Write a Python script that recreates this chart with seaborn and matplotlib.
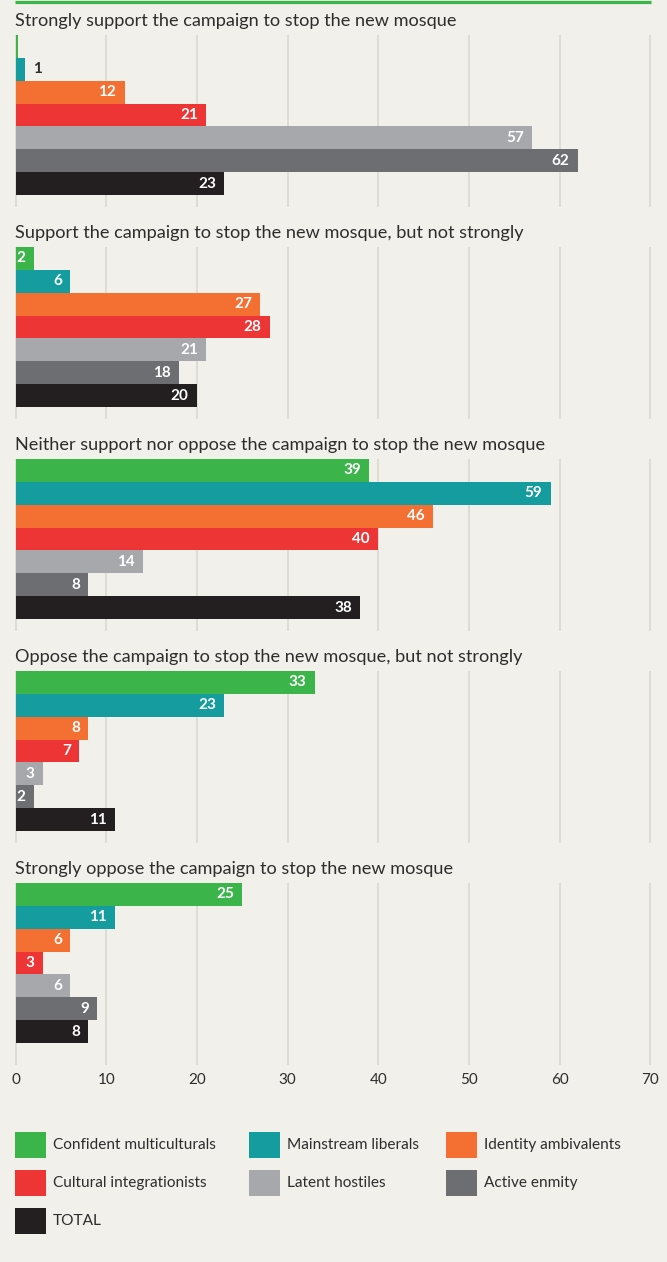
import matplotlib
matplotlib.use("Agg")
import matplotlib.pyplot as plt
import seaborn as sns
import pandas as pd
from matplotlib.patches import Rectangle
from matplotlib.lines import Line2D

# ---- data -------------------------------------------------------------
questions = [
    "Strongly support the campaign to stop the new mosque",
    "Support the campaign to stop the new mosque, but not strongly",
    "Neither support nor oppose the campaign to stop the new mosque",
    "Oppose the campaign to stop the new mosque, but not strongly",
    "Strongly oppose the campaign to stop the new mosque",
]
groups = [
    "Confident multiculturals",
    "Mainstream liberals",
    "Identity ambivalents",
    "Cultural integrationists",
    "Latent hostiles",
    "Active enmity",
    "TOTAL",
]
strongly_support = [0.3, 1, 12, 21, 57, 62, 23]
support_not_strongly = [2, 6, 27, 28, 21, 18, 20]
neither = [39, 59, 46, 40, 14, 8, 38]
oppose_not_strongly = [33, 23, 8, 7, 3, 2, 11]
strongly_oppose = [25, 11, 6, 3, 6, 9, 8]
x_ticks = [0, 10, 20, 30, 40, 50, 60, 70]

panel_values = [strongly_support, support_not_strongly, neither,
                oppose_not_strongly, strongly_oppose]

colors = ["#3bb54a", "#149c9f", "#f37032", "#ee3536",
          "#a7a8ab", "#6d6e71", "#231f20"]

df = pd.DataFrame(
    [(q, g, v) for q, vals in zip(questions, panel_values)
     for g, v in zip(groups, vals)],
    columns=["question", "group", "value"],
)

# ---- style ------------------------------------------------------------
BG = "#f1f0eb"
GRID = "#dcdbcf"
TEXT = "#2e2d2c"
sns.set_theme(style="white")
plt.rcParams["font.family"] = ["Lato", "DejaVu Sans"]

W, H = 667, 1262
fig = plt.figure(figsize=(W / 100, H / 100), dpi=100, facecolor=BG)


def rect(left, top, width, height):
    return [left / W, 1 - (top + height) / H, width / W, height / H]


X0, X1 = 15, 651
BAR_BLOCK = 160
PITCH = BAR_BLOCK / len(groups)

# thin accent rule across the top
fig.add_artist(Line2D([X0 / W, X1 / W], [1 - 1.8 / H] * 2,
                      color=colors[0], lw=2.3, solid_capstyle="butt"))

for i, q in enumerate(questions):
    top = 35 + 212 * i
    ext = 22 if i == len(questions) - 1 else 12
    ax = fig.add_axes(rect(X0, top, X1 - X0, BAR_BLOCK + ext))
    sub = df[df["question"] == q]
    sns.barplot(data=sub, x="value", y="group", hue="group",
                order=groups, hue_order=groups, palette=colors,
                saturation=1, width=1.0, legend=False, orient="h",
                linewidth=0, edgecolor="none", ax=ax)
    ax.set_facecolor("none")
    ax.set_xlim(-0.08, 70.08)
    ax.set_ylim(6.5 + ext / PITCH, -0.5)
    ax.set_xticks(x_ticks)
    ax.grid(axis="x", color=GRID, lw=1.3)
    ax.grid(axis="y", visible=False)
    ax.set_axisbelow(True)
    ax.set_xlabel("")
    ax.set_ylabel("")
    ax.set_yticks([])
    sns.despine(ax=ax, left=True, bottom=True)
    ax.tick_params(axis="x", length=0, labelbottom=(i == len(questions) - 1),
                   labelsize=11, labelcolor=TEXT, pad=6)

    # bar value labels
    for j, v in enumerate(panel_values[i]):
        lab = int(round(v))
        if lab < 1:
            continue
        if v < 1.5:
            ax.annotate(str(lab), (v, j), xytext=(6, 0),
                        textcoords="offset points", ha="left", va="center",
                        fontsize=11, fontweight="bold", color=TEXT)
        else:
            ax.annotate(str(lab), (v, j), xytext=(-6, 0),
                        textcoords="offset points", ha="right", va="center",
                        fontsize=11, fontweight="bold", color="white")

    fig.text(X0 / W, 1 - (top - 9) / H, q, ha="left", va="baseline",
             fontsize=13.1, color=TEXT)

# ---- legend (three columns, filled row by row) --------------------------
col_x = [15, 249, 446]
row_y = [1145, 1183, 1221]
SW_W, SW_H = 31, 26
for k, (g, c) in enumerate(zip(groups, colors)):
    cx = col_x[k % 3]
    cy = row_y[k // 3]
    fig.add_artist(Rectangle(((cx) / W, 1 - (cy + SW_H / 2) / H),
                             SW_W / W, SW_H / H, transform=fig.transFigure,
                             facecolor=c, edgecolor="none"))
    fig.text((cx + SW_W + 7) / W, 1 - cy / H, g, ha="left", va="center",
             fontsize=11.1, color=TEXT)

fig.savefig("out.png", dpi=100, facecolor=BG)
